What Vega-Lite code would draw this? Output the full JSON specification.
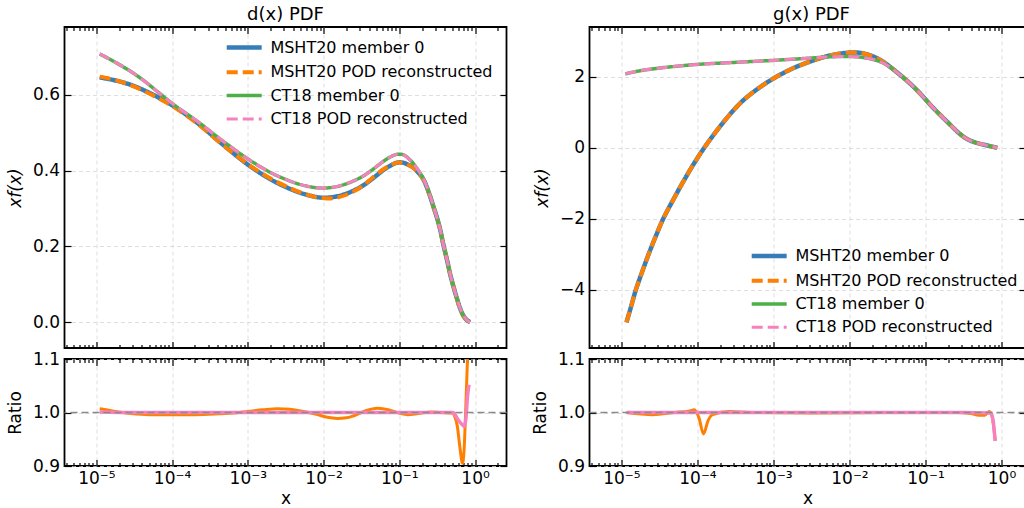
{
"$schema": "https://vega.github.io/schema/vega-lite/v6.json",
"padding": {"left": 5.5, "top": 5, "right": 0, "bottom": 0},
"datasets": {
"d": [
{"x":1.107e-5,"v":0.646,"s":"MSHT20 member 0"},{"x":1.778e-5,"v":0.638,"s":"MSHT20 member 0"},{"x":2.884e-5,"v":0.626,"s":"MSHT20 member 0"},{"x":4.467e-5,"v":0.610,"s":"MSHT20 member 0"},{"x":6.457e-5,"v":0.594,"s":"MSHT20 member 0"},{"x":1.072e-4,"v":0.569,"s":"MSHT20 member 0"},{"x":2.188e-4,"v":0.525,"s":"MSHT20 member 0"},{"x":4.416e-4,"v":0.473,"s":"MSHT20 member 0"},{"x":1e-3,"v":0.416,"s":"MSHT20 member 0"},{"x":1.995e-3,"v":0.377,"s":"MSHT20 member 0"},{"x":3.162e-3,"v":0.357,"s":"MSHT20 member 0"},{"x":5.012e-3,"v":0.341,"s":"MSHT20 member 0"},{"x":9.016e-3,"v":0.329,"s":"MSHT20 member 0"},{"x":1.413e-2,"v":0.331,"s":"MSHT20 member 0"},{"x":2.042e-2,"v":0.340,"s":"MSHT20 member 0"},{"x":3.162e-2,"v":0.358,"s":"MSHT20 member 0"},{"x":4.121e-2,"v":0.374,"s":"MSHT20 member 0"},{"x":6.310e-2,"v":0.403,"s":"MSHT20 member 0"},{"x":7.943e-2,"v":0.415,"s":"MSHT20 member 0"},{"x":9.333e-2,"v":0.421,"s":"MSHT20 member 0"},{"x":0.1122,"v":0.421,"s":"MSHT20 member 0"},{"x":0.1396,"v":0.413,"s":"MSHT20 member 0"},{"x":0.1514,"v":0.409,"s":"MSHT20 member 0"},{"x":0.1778,"v":0.395,"s":"MSHT20 member 0"},{"x":0.2089,"v":0.376,"s":"MSHT20 member 0"},{"x":0.2512,"v":0.336,"s":"MSHT20 member 0"},{"x":0.2818,"v":0.305,"s":"MSHT20 member 0"},{"x":0.3162,"v":0.274,"s":"MSHT20 member 0"},{"x":0.3467,"v":0.244,"s":"MSHT20 member 0"},{"x":0.3802,"v":0.206,"s":"MSHT20 member 0"},{"x":0.4266,"v":0.164,"s":"MSHT20 member 0"},{"x":0.4677,"v":0.128,"s":"MSHT20 member 0"},{"x":0.5188,"v":0.094,"s":"MSHT20 member 0"},{"x":0.5754,"v":0.063,"s":"MSHT20 member 0"},{"x":0.6339,"v":0.037,"s":"MSHT20 member 0"},{"x":0.7079,"v":0.016,"s":"MSHT20 member 0"},{"x":0.7762,"v":0.006,"s":"MSHT20 member 0"},{"x":0.8590,"v":0.0,"s":"MSHT20 member 0"},
{"x":1.107e-5,"v":0.648,"s":"MSHT20 POD reconstructed"},{"x":1.778e-5,"v":0.639,"s":"MSHT20 POD reconstructed"},{"x":2.884e-5,"v":0.625,"s":"MSHT20 POD reconstructed"},{"x":4.467e-5,"v":0.608,"s":"MSHT20 POD reconstructed"},{"x":6.457e-5,"v":0.592,"s":"MSHT20 POD reconstructed"},{"x":1.072e-4,"v":0.567,"s":"MSHT20 POD reconstructed"},{"x":2.188e-4,"v":0.523,"s":"MSHT20 POD reconstructed"},{"x":4.416e-4,"v":0.472,"s":"MSHT20 POD reconstructed"},{"x":1e-3,"v":0.417,"s":"MSHT20 POD reconstructed"},{"x":1.995e-3,"v":0.379,"s":"MSHT20 POD reconstructed"},{"x":3.162e-3,"v":0.359,"s":"MSHT20 POD reconstructed"},{"x":5.012e-3,"v":0.342,"s":"MSHT20 POD reconstructed"},{"x":9.016e-3,"v":0.328,"s":"MSHT20 POD reconstructed"},{"x":1.413e-2,"v":0.328,"s":"MSHT20 POD reconstructed"},{"x":2.042e-2,"v":0.337,"s":"MSHT20 POD reconstructed"},{"x":3.162e-2,"v":0.357,"s":"MSHT20 POD reconstructed"},{"x":4.121e-2,"v":0.376,"s":"MSHT20 POD reconstructed"},{"x":6.310e-2,"v":0.405,"s":"MSHT20 POD reconstructed"},{"x":7.943e-2,"v":0.416,"s":"MSHT20 POD reconstructed"},{"x":9.333e-2,"v":0.421,"s":"MSHT20 POD reconstructed"},{"x":0.1122,"v":0.420,"s":"MSHT20 POD reconstructed"},{"x":0.1396,"v":0.412,"s":"MSHT20 POD reconstructed"},{"x":0.1514,"v":0.408,"s":"MSHT20 POD reconstructed"},{"x":0.1778,"v":0.395,"s":"MSHT20 POD reconstructed"},{"x":0.2089,"v":0.376,"s":"MSHT20 POD reconstructed"},{"x":0.2512,"v":0.336,"s":"MSHT20 POD reconstructed"},{"x":0.2818,"v":0.305,"s":"MSHT20 POD reconstructed"},{"x":0.3162,"v":0.274,"s":"MSHT20 POD reconstructed"},{"x":0.3467,"v":0.244,"s":"MSHT20 POD reconstructed"},{"x":0.3802,"v":0.206,"s":"MSHT20 POD reconstructed"},{"x":0.4266,"v":0.164,"s":"MSHT20 POD reconstructed"},{"x":0.4677,"v":0.128,"s":"MSHT20 POD reconstructed"},{"x":0.5188,"v":0.094,"s":"MSHT20 POD reconstructed"},{"x":0.5754,"v":0.062,"s":"MSHT20 POD reconstructed"},{"x":0.6339,"v":0.035,"s":"MSHT20 POD reconstructed"},{"x":0.7079,"v":0.015,"s":"MSHT20 POD reconstructed"},{"x":0.7762,"v":0.006,"s":"MSHT20 POD reconstructed"},{"x":0.8590,"v":0.0,"s":"MSHT20 POD reconstructed"},
{"x":1.107e-5,"v":0.708,"s":"CT18 member 0"},{"x":1.778e-5,"v":0.686,"s":"CT18 member 0"},{"x":2.884e-5,"v":0.661,"s":"CT18 member 0"},{"x":4.467e-5,"v":0.634,"s":"CT18 member 0"},{"x":6.457e-5,"v":0.608,"s":"CT18 member 0"},{"x":1.072e-4,"v":0.573,"s":"CT18 member 0"},{"x":2.188e-4,"v":0.529,"s":"CT18 member 0"},{"x":4.416e-4,"v":0.482,"s":"CT18 member 0"},{"x":1e-3,"v":0.431,"s":"CT18 member 0"},{"x":1.995e-3,"v":0.395,"s":"CT18 member 0"},{"x":3.162e-3,"v":0.377,"s":"CT18 member 0"},{"x":5.012e-3,"v":0.363,"s":"CT18 member 0"},{"x":9.016e-3,"v":0.354,"s":"CT18 member 0"},{"x":1.413e-2,"v":0.357,"s":"CT18 member 0"},{"x":2.042e-2,"v":0.366,"s":"CT18 member 0"},{"x":3.162e-2,"v":0.383,"s":"CT18 member 0"},{"x":4.121e-2,"v":0.398,"s":"CT18 member 0"},{"x":6.310e-2,"v":0.426,"s":"CT18 member 0"},{"x":7.943e-2,"v":0.438,"s":"CT18 member 0"},{"x":9.333e-2,"v":0.443,"s":"CT18 member 0"},{"x":0.1122,"v":0.442,"s":"CT18 member 0"},{"x":0.1396,"v":0.428,"s":"CT18 member 0"},{"x":0.1514,"v":0.420,"s":"CT18 member 0"},{"x":0.1778,"v":0.401,"s":"CT18 member 0"},{"x":0.2089,"v":0.378,"s":"CT18 member 0"},{"x":0.2512,"v":0.337,"s":"CT18 member 0"},{"x":0.2818,"v":0.306,"s":"CT18 member 0"},{"x":0.3162,"v":0.274,"s":"CT18 member 0"},{"x":0.3467,"v":0.244,"s":"CT18 member 0"},{"x":0.3802,"v":0.206,"s":"CT18 member 0"},{"x":0.4266,"v":0.164,"s":"CT18 member 0"},{"x":0.4677,"v":0.128,"s":"CT18 member 0"},{"x":0.5188,"v":0.094,"s":"CT18 member 0"},{"x":0.5754,"v":0.063,"s":"CT18 member 0"},{"x":0.6339,"v":0.037,"s":"CT18 member 0"},{"x":0.7079,"v":0.016,"s":"CT18 member 0"},{"x":0.7762,"v":0.006,"s":"CT18 member 0"},{"x":0.8590,"v":0.0,"s":"CT18 member 0"},
{"x":1.107e-5,"v":0.708,"s":"CT18 POD reconstructed"},{"x":1.778e-5,"v":0.686,"s":"CT18 POD reconstructed"},{"x":2.884e-5,"v":0.661,"s":"CT18 POD reconstructed"},{"x":4.467e-5,"v":0.634,"s":"CT18 POD reconstructed"},{"x":6.457e-5,"v":0.608,"s":"CT18 POD reconstructed"},{"x":1.072e-4,"v":0.573,"s":"CT18 POD reconstructed"},{"x":2.188e-4,"v":0.529,"s":"CT18 POD reconstructed"},{"x":4.416e-4,"v":0.482,"s":"CT18 POD reconstructed"},{"x":1e-3,"v":0.431,"s":"CT18 POD reconstructed"},{"x":1.995e-3,"v":0.395,"s":"CT18 POD reconstructed"},{"x":3.162e-3,"v":0.377,"s":"CT18 POD reconstructed"},{"x":5.012e-3,"v":0.363,"s":"CT18 POD reconstructed"},{"x":9.016e-3,"v":0.354,"s":"CT18 POD reconstructed"},{"x":1.413e-2,"v":0.357,"s":"CT18 POD reconstructed"},{"x":2.042e-2,"v":0.366,"s":"CT18 POD reconstructed"},{"x":3.162e-2,"v":0.383,"s":"CT18 POD reconstructed"},{"x":4.121e-2,"v":0.398,"s":"CT18 POD reconstructed"},{"x":6.310e-2,"v":0.426,"s":"CT18 POD reconstructed"},{"x":7.943e-2,"v":0.438,"s":"CT18 POD reconstructed"},{"x":9.333e-2,"v":0.443,"s":"CT18 POD reconstructed"},{"x":0.1122,"v":0.442,"s":"CT18 POD reconstructed"},{"x":0.1396,"v":0.428,"s":"CT18 POD reconstructed"},{"x":0.1514,"v":0.420,"s":"CT18 POD reconstructed"},{"x":0.1778,"v":0.401,"s":"CT18 POD reconstructed"},{"x":0.2089,"v":0.378,"s":"CT18 POD reconstructed"},{"x":0.2512,"v":0.337,"s":"CT18 POD reconstructed"},{"x":0.2818,"v":0.306,"s":"CT18 POD reconstructed"},{"x":0.3162,"v":0.274,"s":"CT18 POD reconstructed"},{"x":0.3467,"v":0.244,"s":"CT18 POD reconstructed"},{"x":0.3802,"v":0.206,"s":"CT18 POD reconstructed"},{"x":0.4266,"v":0.164,"s":"CT18 POD reconstructed"},{"x":0.4677,"v":0.128,"s":"CT18 POD reconstructed"},{"x":0.5188,"v":0.094,"s":"CT18 POD reconstructed"},{"x":0.5754,"v":0.063,"s":"CT18 POD reconstructed"},{"x":0.6339,"v":0.037,"s":"CT18 POD reconstructed"},{"x":0.7079,"v":0.016,"s":"CT18 POD reconstructed"},{"x":0.7762,"v":0.006,"s":"CT18 POD reconstructed"},{"x":0.8590,"v":0.0,"s":"CT18 POD reconstructed"}
],
"g": [
{"x":1.164e-5,"v":-4.92,"s":"MSHT20 member 0"},{"x":1.349e-5,"v":-4.45,"s":"MSHT20 member 0"},{"x":1.549e-5,"v":-4.00,"s":"MSHT20 member 0"},{"x":1.905e-5,"v":-3.45,"s":"MSHT20 member 0"},{"x":2.344e-5,"v":-2.93,"s":"MSHT20 member 0"},{"x":2.884e-5,"v":-2.45,"s":"MSHT20 member 0"},{"x":3.548e-5,"v":-2.00,"s":"MSHT20 member 0"},{"x":4.786e-5,"v":-1.47,"s":"MSHT20 member 0"},{"x":6.607e-5,"v":-0.93,"s":"MSHT20 member 0"},{"x":8.913e-5,"v":-0.46,"s":"MSHT20 member 0"},{"x":1.230e-4,"v":0.00,"s":"MSHT20 member 0"},{"x":1.778e-4,"v":0.47,"s":"MSHT20 member 0"},{"x":2.630e-4,"v":0.92,"s":"MSHT20 member 0"},{"x":3.981e-4,"v":1.33,"s":"MSHT20 member 0"},{"x":6.310e-4,"v":1.67,"s":"MSHT20 member 0"},{"x":1e-3,"v":1.95,"s":"MSHT20 member 0"},{"x":1.778e-3,"v":2.23,"s":"MSHT20 member 0"},{"x":3.162e-3,"v":2.44,"s":"MSHT20 member 0"},{"x":5.623e-3,"v":2.60,"s":"MSHT20 member 0"},{"x":1e-2,"v":2.68,"s":"MSHT20 member 0"},{"x":1.413e-2,"v":2.67,"s":"MSHT20 member 0"},{"x":2.0e-2,"v":2.58,"s":"MSHT20 member 0"},{"x":2.692e-2,"v":2.44,"s":"MSHT20 member 0"},{"x":3.467e-2,"v":2.27,"s":"MSHT20 member 0"},{"x":4.467e-2,"v":2.08,"s":"MSHT20 member 0"},{"x":5.754e-2,"v":1.88,"s":"MSHT20 member 0"},{"x":7.413e-2,"v":1.66,"s":"MSHT20 member 0"},{"x":9.550e-2,"v":1.41,"s":"MSHT20 member 0"},{"x":0.1230,"v":1.15,"s":"MSHT20 member 0"},{"x":0.1585,"v":0.91,"s":"MSHT20 member 0"},{"x":0.2042,"v":0.68,"s":"MSHT20 member 0"},{"x":0.2630,"v":0.45,"s":"MSHT20 member 0"},{"x":0.3162,"v":0.31,"s":"MSHT20 member 0"},{"x":0.3715,"v":0.22,"s":"MSHT20 member 0"},{"x":0.4365,"v":0.16,"s":"MSHT20 member 0"},{"x":0.5248,"v":0.11,"s":"MSHT20 member 0"},{"x":0.6310,"v":0.07,"s":"MSHT20 member 0"},{"x":0.7586,"v":0.03,"s":"MSHT20 member 0"},{"x":0.8790,"v":0.0,"s":"MSHT20 member 0"},
{"x":1.164e-5,"v":-4.92,"s":"MSHT20 POD reconstructed"},{"x":1.349e-5,"v":-4.45,"s":"MSHT20 POD reconstructed"},{"x":1.549e-5,"v":-4.00,"s":"MSHT20 POD reconstructed"},{"x":1.905e-5,"v":-3.45,"s":"MSHT20 POD reconstructed"},{"x":2.344e-5,"v":-2.93,"s":"MSHT20 POD reconstructed"},{"x":2.884e-5,"v":-2.45,"s":"MSHT20 POD reconstructed"},{"x":3.548e-5,"v":-2.00,"s":"MSHT20 POD reconstructed"},{"x":4.786e-5,"v":-1.47,"s":"MSHT20 POD reconstructed"},{"x":6.607e-5,"v":-0.93,"s":"MSHT20 POD reconstructed"},{"x":8.913e-5,"v":-0.46,"s":"MSHT20 POD reconstructed"},{"x":1.230e-4,"v":0.00,"s":"MSHT20 POD reconstructed"},{"x":1.778e-4,"v":0.47,"s":"MSHT20 POD reconstructed"},{"x":2.630e-4,"v":0.92,"s":"MSHT20 POD reconstructed"},{"x":3.981e-4,"v":1.33,"s":"MSHT20 POD reconstructed"},{"x":6.310e-4,"v":1.67,"s":"MSHT20 POD reconstructed"},{"x":1e-3,"v":1.95,"s":"MSHT20 POD reconstructed"},{"x":1.778e-3,"v":2.23,"s":"MSHT20 POD reconstructed"},{"x":3.162e-3,"v":2.44,"s":"MSHT20 POD reconstructed"},{"x":5.623e-3,"v":2.60,"s":"MSHT20 POD reconstructed"},{"x":1e-2,"v":2.68,"s":"MSHT20 POD reconstructed"},{"x":1.413e-2,"v":2.67,"s":"MSHT20 POD reconstructed"},{"x":2.0e-2,"v":2.58,"s":"MSHT20 POD reconstructed"},{"x":2.692e-2,"v":2.44,"s":"MSHT20 POD reconstructed"},{"x":3.467e-2,"v":2.27,"s":"MSHT20 POD reconstructed"},{"x":4.467e-2,"v":2.08,"s":"MSHT20 POD reconstructed"},{"x":5.754e-2,"v":1.88,"s":"MSHT20 POD reconstructed"},{"x":7.413e-2,"v":1.66,"s":"MSHT20 POD reconstructed"},{"x":9.550e-2,"v":1.41,"s":"MSHT20 POD reconstructed"},{"x":0.1230,"v":1.15,"s":"MSHT20 POD reconstructed"},{"x":0.1585,"v":0.91,"s":"MSHT20 POD reconstructed"},{"x":0.2042,"v":0.68,"s":"MSHT20 POD reconstructed"},{"x":0.2630,"v":0.45,"s":"MSHT20 POD reconstructed"},{"x":0.3162,"v":0.31,"s":"MSHT20 POD reconstructed"},{"x":0.3715,"v":0.22,"s":"MSHT20 POD reconstructed"},{"x":0.4365,"v":0.16,"s":"MSHT20 POD reconstructed"},{"x":0.5248,"v":0.11,"s":"MSHT20 POD reconstructed"},{"x":0.6310,"v":0.07,"s":"MSHT20 POD reconstructed"},{"x":0.7586,"v":0.03,"s":"MSHT20 POD reconstructed"},{"x":0.8790,"v":0.0,"s":"MSHT20 POD reconstructed"},
{"x":1.122e-5,"v":2.08,"s":"CT18 member 0"},{"x":1.778e-5,"v":2.17,"s":"CT18 member 0"},{"x":2.818e-5,"v":2.23,"s":"CT18 member 0"},{"x":5.623e-5,"v":2.30,"s":"CT18 member 0"},{"x":1.047e-4,"v":2.35,"s":"CT18 member 0"},{"x":3.548e-4,"v":2.41,"s":"CT18 member 0"},{"x":1e-3,"v":2.46,"s":"CT18 member 0"},{"x":2.818e-3,"v":2.52,"s":"CT18 member 0"},{"x":5.623e-3,"v":2.56,"s":"CT18 member 0"},{"x":1e-2,"v":2.57,"s":"CT18 member 0"},{"x":1.413e-2,"v":2.55,"s":"CT18 member 0"},{"x":2.0e-2,"v":2.49,"s":"CT18 member 0"},{"x":2.692e-2,"v":2.40,"s":"CT18 member 0"},{"x":3.467e-2,"v":2.26,"s":"CT18 member 0"},{"x":4.467e-2,"v":2.08,"s":"CT18 member 0"},{"x":5.754e-2,"v":1.88,"s":"CT18 member 0"},{"x":7.413e-2,"v":1.66,"s":"CT18 member 0"},{"x":9.550e-2,"v":1.41,"s":"CT18 member 0"},{"x":0.1230,"v":1.15,"s":"CT18 member 0"},{"x":0.1585,"v":0.91,"s":"CT18 member 0"},{"x":0.2042,"v":0.68,"s":"CT18 member 0"},{"x":0.2630,"v":0.45,"s":"CT18 member 0"},{"x":0.3162,"v":0.31,"s":"CT18 member 0"},{"x":0.3715,"v":0.22,"s":"CT18 member 0"},{"x":0.4365,"v":0.16,"s":"CT18 member 0"},{"x":0.5248,"v":0.11,"s":"CT18 member 0"},{"x":0.6310,"v":0.07,"s":"CT18 member 0"},{"x":0.7586,"v":0.03,"s":"CT18 member 0"},{"x":0.8790,"v":0.0,"s":"CT18 member 0"},
{"x":1.122e-5,"v":2.08,"s":"CT18 POD reconstructed"},{"x":1.778e-5,"v":2.17,"s":"CT18 POD reconstructed"},{"x":2.818e-5,"v":2.23,"s":"CT18 POD reconstructed"},{"x":5.623e-5,"v":2.30,"s":"CT18 POD reconstructed"},{"x":1.047e-4,"v":2.35,"s":"CT18 POD reconstructed"},{"x":3.548e-4,"v":2.41,"s":"CT18 POD reconstructed"},{"x":1e-3,"v":2.46,"s":"CT18 POD reconstructed"},{"x":2.818e-3,"v":2.52,"s":"CT18 POD reconstructed"},{"x":5.623e-3,"v":2.56,"s":"CT18 POD reconstructed"},{"x":1e-2,"v":2.57,"s":"CT18 POD reconstructed"},{"x":1.413e-2,"v":2.55,"s":"CT18 POD reconstructed"},{"x":2.0e-2,"v":2.49,"s":"CT18 POD reconstructed"},{"x":2.692e-2,"v":2.40,"s":"CT18 POD reconstructed"},{"x":3.467e-2,"v":2.26,"s":"CT18 POD reconstructed"},{"x":4.467e-2,"v":2.08,"s":"CT18 POD reconstructed"},{"x":5.754e-2,"v":1.88,"s":"CT18 POD reconstructed"},{"x":7.413e-2,"v":1.66,"s":"CT18 POD reconstructed"},{"x":9.550e-2,"v":1.41,"s":"CT18 POD reconstructed"},{"x":0.1230,"v":1.15,"s":"CT18 POD reconstructed"},{"x":0.1585,"v":0.91,"s":"CT18 POD reconstructed"},{"x":0.2042,"v":0.68,"s":"CT18 POD reconstructed"},{"x":0.2630,"v":0.45,"s":"CT18 POD reconstructed"},{"x":0.3162,"v":0.31,"s":"CT18 POD reconstructed"},{"x":0.3715,"v":0.22,"s":"CT18 POD reconstructed"},{"x":0.4365,"v":0.16,"s":"CT18 POD reconstructed"},{"x":0.5248,"v":0.11,"s":"CT18 POD reconstructed"},{"x":0.6310,"v":0.07,"s":"CT18 POD reconstructed"},{"x":0.7586,"v":0.03,"s":"CT18 POD reconstructed"},{"x":0.8790,"v":0.0,"s":"CT18 POD reconstructed"}
],
"dr": [
{"x":1.107e-5,"r":1.007,"s":"MSHT20"},{"x":1.778e-5,"r":1.002,"s":"MSHT20"},{"x":2.884e-5,"r":0.998,"s":"MSHT20"},{"x":5.012e-5,"r":0.996,"s":"MSHT20"},{"x":1e-4,"r":0.996,"s":"MSHT20"},{"x":1.995e-4,"r":0.996,"s":"MSHT20"},{"x":3.631e-4,"r":0.997,"s":"MSHT20"},{"x":6.310e-4,"r":0.999,"s":"MSHT20"},{"x":1e-3,"r":1.002,"s":"MSHT20"},{"x":1.585e-3,"r":1.005,"s":"MSHT20"},{"x":2.455e-3,"r":1.007,"s":"MSHT20"},{"x":3.548e-3,"r":1.006,"s":"MSHT20"},{"x":4.571e-3,"r":1.004,"s":"MSHT20"},{"x":6.310e-3,"r":1.000,"s":"MSHT20"},{"x":8.318e-3,"r":0.996,"s":"MSHT20"},{"x":1.122e-2,"r":0.991,"s":"MSHT20"},{"x":1.514e-2,"r":0.989,"s":"MSHT20"},{"x":1.995e-2,"r":0.990,"s":"MSHT20"},{"x":2.512e-2,"r":0.994,"s":"MSHT20"},{"x":3.548e-2,"r":1.003,"s":"MSHT20"},{"x":5.129e-2,"r":1.008,"s":"MSHT20"},{"x":6.607e-2,"r":1.006,"s":"MSHT20"},{"x":8.511e-2,"r":1.002,"s":"MSHT20"},{"x":0.1047,"r":0.998,"s":"MSHT20"},{"x":0.1288,"r":0.996,"s":"MSHT20"},{"x":0.1778,"r":0.998,"s":"MSHT20"},{"x":0.2600,"r":1.001,"s":"MSHT20"},{"x":0.3548,"r":1.000,"s":"MSHT20"},{"x":0.5012,"r":0.999,"s":"MSHT20"},{"x":0.5370,"r":0.993,"s":"MSHT20"},{"x":0.5821,"r":0.975,"s":"MSHT20"},{"x":0.6310,"r":0.935,"s":"MSHT20"},{"x":0.6823,"r":0.905,"s":"MSHT20"},{"x":0.7161,"r":0.930,"s":"MSHT20"},{"x":0.7586,"r":1.020,"s":"MSHT20"},{"x":0.7943,"r":1.100,"s":"MSHT20"},{"x":0.8318,"r":1.200,"s":"MSHT20"},
{"x":1.107e-5,"r":1.001,"s":"CT18"},{"x":3.162e-5,"r":1.000,"s":"CT18"},{"x":1e-4,"r":1.000,"s":"CT18"},{"x":1e-3,"r":1.000,"s":"CT18"},{"x":1e-2,"r":1.000,"s":"CT18"},{"x":0.1,"r":1.000,"s":"CT18"},{"x":0.3162,"r":1.000,"s":"CT18"},{"x":0.5012,"r":1.000,"s":"CT18"},{"x":0.5248,"r":0.999,"s":"CT18"},{"x":0.5754,"r":0.990,"s":"CT18"},{"x":0.6310,"r":0.982,"s":"CT18"},{"x":0.6918,"r":0.976,"s":"CT18"},{"x":0.7244,"r":0.974,"s":"CT18"},{"x":0.7586,"r":0.990,"s":"CT18"},{"x":0.7943,"r":1.030,"s":"CT18"},{"x":0.8318,"r":1.052,"s":"CT18"}
],
"gr": [
{"x":1.164e-5,"r":1.000,"s":"MSHT20"},{"x":2.570e-5,"r":0.996,"s":"MSHT20"},{"x":5.012e-5,"r":1.000,"s":"MSHT20"},{"x":7.943e-5,"r":1.003,"s":"MSHT20"},{"x":9.120e-5,"r":1.005,"s":"MSHT20"},{"x":1.047e-4,"r":0.990,"s":"MSHT20"},{"x":1.202e-4,"r":0.960,"s":"MSHT20"},{"x":1.380e-4,"r":0.985,"s":"MSHT20"},{"x":1.585e-4,"r":0.996,"s":"MSHT20"},{"x":2.630e-4,"r":1.002,"s":"MSHT20"},{"x":5.012e-4,"r":1.000,"s":"MSHT20"},{"x":3.162e-3,"r":0.999,"s":"MSHT20"},{"x":3.162e-2,"r":1.000,"s":"MSHT20"},{"x":0.2512,"r":1.000,"s":"MSHT20"},{"x":0.3981,"r":0.998,"s":"MSHT20"},{"x":0.5012,"r":0.995,"s":"MSHT20"},{"x":0.6026,"r":0.995,"s":"MSHT20"},{"x":0.6918,"r":1.002,"s":"MSHT20"},{"x":0.7586,"r":0.990,"s":"MSHT20"},{"x":0.8260,"r":0.947,"s":"MSHT20"},
{"x":1.164e-5,"r":1.000,"s":"CT18"},{"x":1e-3,"r":1.000,"s":"CT18"},{"x":0.1,"r":1.000,"s":"CT18"},{"x":0.3162,"r":1.000,"s":"CT18"},{"x":0.7244,"r":0.999,"s":"CT18"},{"x":0.7762,"r":0.985,"s":"CT18"},{"x":0.8260,"r":0.947,"s":"CT18"}
]
},
"hconcat": [
{
"vconcat": [
{
"width": 442, "height": 321,
"title": {"text": "d(x) PDF", "offset": 2},
"data": {"name": "d"},
"layer": [
{"transform": [{"filter": "datum.s == 'MSHT20 member 0'"}],
 "mark": {"type": "line", "clip": true, "interpolate": "catmull-rom"},
 "encoding": {
  "x": {"field": "x", "type": "quantitative", "scale": {"type": "log", "domain": [3.8e-6, 2.6], "nice": false}, "axis": {"orient": "bottom", "values": [1e-5,1e-4,1e-3,1e-2,1e-1,1], "labels": false, "title": null, "tickSize": -6.5, "grid": true}},
  "y": {"field": "v", "type": "quantitative", "scale": {"domain": [-0.068, 0.779], "nice": false, "zero": false}, "axis": {"orient": "left", "values": [0, 0.2, 0.4, 0.6], "format": ".1f", "tickSize": -6.5, "labelPadding": 11.5, "grid": true, "title": "xf(x)", "titleFontStyle": "italic", "titlePadding": 8}},
  "color": {"field": "s", "type": "nominal", "scale": {"domain": ["MSHT20 member 0","MSHT20 POD reconstructed","CT18 member 0","CT18 POD reconstructed"], "range": ["#377eb8","#ff7f00","#4daf4a","#f781bf"]}, "legend": {"orient": "none", "legendX": 171.2, "legendY": 12, "title": null, "symbolType": "M-3,0H3", "symbolSize": 136}},
  "strokeDash": {"field": "s", "type": "nominal", "scale": {"domain": ["MSHT20 member 0","MSHT20 POD reconstructed","CT18 member 0","CT18 POD reconstructed"], "range": [[1,0],[11,5],[1,0],[11,5]]}},
  "strokeWidth": {"field": "s", "type": "nominal", "scale": {"domain": ["MSHT20 member 0","MSHT20 POD reconstructed","CT18 member 0","CT18 POD reconstructed"], "range": [4.5,3,4.5,3]}}
 }},
{"transform": [{"filter": "datum.s == 'MSHT20 POD reconstructed'"}],
 "mark": {"type": "line", "clip": true, "interpolate": "catmull-rom"},
 "encoding": {
  "x": {"field": "x", "type": "quantitative", "axis": {"orient": "top", "values": [1e-5,1e-4,1e-3,1e-2,1e-1,1], "labels": false, "title": null, "tickSize": -6.5, "grid": false}},
  "y": {"field": "v", "type": "quantitative", "axis": {"orient": "right", "values": [0, 0.2, 0.4, 0.6], "labels": false, "title": null, "tickSize": -6.5, "grid": false}},
  "color": {"field": "s", "type": "nominal"},
  "strokeDash": {"field": "s", "type": "nominal"},
  "strokeWidth": {"field": "s", "type": "nominal"}
 }},
{"transform": [{"filter": "datum.s == 'CT18 member 0'"}],
 "mark": {"type": "line", "clip": true, "interpolate": "catmull-rom"},
 "encoding": {
  "x": {"field": "x", "type": "quantitative", "axis": {"orient": "bottom", "values": [4e-6,5e-6,6e-6,7e-6,8e-6,9e-6,2e-5,3e-5,4e-5,5e-5,6e-5,7e-5,8e-5,9e-5,2e-4,3e-4,4e-4,5e-4,6e-4,7e-4,8e-4,9e-4,2e-3,3e-3,4e-3,5e-3,6e-3,7e-3,8e-3,9e-3,2e-2,3e-2,4e-2,5e-2,6e-2,7e-2,8e-2,9e-2,0.2,0.3,0.4,0.5,0.6,0.7,0.8,0.9,2], "labels": false, "title": null, "tickSize": -3.5, "grid": false}},
  "y": {"field": "v", "type": "quantitative", "axis": null},
  "color": {"field": "s", "type": "nominal"},
  "strokeDash": {"field": "s", "type": "nominal"},
  "strokeWidth": {"field": "s", "type": "nominal"}
 }},
{"transform": [{"filter": "datum.s == 'CT18 POD reconstructed'"}],
 "mark": {"type": "line", "clip": true, "interpolate": "catmull-rom"},
 "encoding": {
  "x": {"field": "x", "type": "quantitative", "axis": {"orient": "top", "values": [4e-6,5e-6,6e-6,7e-6,8e-6,9e-6,2e-5,3e-5,4e-5,5e-5,6e-5,7e-5,8e-5,9e-5,2e-4,3e-4,4e-4,5e-4,6e-4,7e-4,8e-4,9e-4,2e-3,3e-3,4e-3,5e-3,6e-3,7e-3,8e-3,9e-3,2e-2,3e-2,4e-2,5e-2,6e-2,7e-2,8e-2,9e-2,0.2,0.3,0.4,0.5,0.6,0.7,0.8,0.9,2], "labels": false, "title": null, "tickSize": -3.5, "grid": false}},
  "y": {"field": "v", "type": "quantitative", "axis": null},
  "color": {"field": "s", "type": "nominal"},
  "strokeDash": {"field": "s", "type": "nominal"},
  "strokeWidth": {"field": "s", "type": "nominal"}
 }}
],
"resolve": {"axis": {"x": "independent", "y": "independent"}}
},
{
"width": 442, "height": 107,
"data": {"name": "dr"},
"layer": [
{"transform": [{"filter": "datum.s == 'MSHT20'"}],
 "mark": {"type": "line", "clip": true, "interpolate": "monotone", "color": "#ff7f00", "strokeWidth": 3},
 "encoding": {
  "x": {"field": "x", "type": "quantitative", "scale": {"type": "log", "domain": [3.8e-6, 2.6], "nice": false}, "axis": {"orient": "bottom", "values": [1e-5,1e-4,1e-3,1e-2,1e-1,1], "tickSize": -6.5, "labelPadding": 10.5, "grid": true, "title": "x", "titlePadding": 4, "labelExpr": "datum.value < 3e-5 ? '10⁻⁵' : datum.value < 3e-4 ? '10⁻⁴' : datum.value < 3e-3 ? '10⁻³' : datum.value < 3e-2 ? '10⁻²' : datum.value < 0.3 ? '10⁻¹' : '10⁰'"}},
  "y": {"field": "r", "type": "quantitative", "scale": {"domain": [0.9, 1.1], "nice": false, "zero": false}, "axis": {"orient": "left", "values": [0.9, 1.0, 1.1], "format": ".1f", "tickSize": -6.5, "labelPadding": 11.5, "grid": true, "title": "Ratio", "titlePadding": 8}}
 }},
{"transform": [{"filter": "datum.s == 'CT18'"}],
 "mark": {"type": "line", "clip": true, "interpolate": "monotone", "color": "#f781bf", "strokeWidth": 3.5},
 "encoding": {
  "x": {"field": "x", "type": "quantitative", "axis": {"orient": "top", "values": [1e-5,1e-4,1e-3,1e-2,1e-1,1], "labels": false, "title": null, "tickSize": -6.5, "grid": false}},
  "y": {"field": "r", "type": "quantitative", "axis": {"orient": "right", "values": [0.9, 1.0, 1.1], "labels": false, "title": null, "tickSize": -6.5, "grid": false}}
 }},
{"mark": {"type": "point", "opacity": 0},
 "encoding": {
  "x": {"field": "x", "type": "quantitative", "axis": {"orient": "bottom", "values": [4e-6,5e-6,6e-6,7e-6,8e-6,9e-6,2e-5,3e-5,4e-5,5e-5,6e-5,7e-5,8e-5,9e-5,2e-4,3e-4,4e-4,5e-4,6e-4,7e-4,8e-4,9e-4,2e-3,3e-3,4e-3,5e-3,6e-3,7e-3,8e-3,9e-3,2e-2,3e-2,4e-2,5e-2,6e-2,7e-2,8e-2,9e-2,0.2,0.3,0.4,0.5,0.6,0.7,0.8,0.9,2], "labels": false, "title": null, "tickSize": -3.5, "grid": false}},
  "y": {"field": "r", "type": "quantitative", "axis": null}
 }},
{"mark": {"type": "point", "opacity": 0},
 "encoding": {
  "x": {"field": "x", "type": "quantitative", "axis": {"orient": "top", "values": [4e-6,5e-6,6e-6,7e-6,8e-6,9e-6,2e-5,3e-5,4e-5,5e-5,6e-5,7e-5,8e-5,9e-5,2e-4,3e-4,4e-4,5e-4,6e-4,7e-4,8e-4,9e-4,2e-3,3e-3,4e-3,5e-3,6e-3,7e-3,8e-3,9e-3,2e-2,3e-2,4e-2,5e-2,6e-2,7e-2,8e-2,9e-2,0.2,0.3,0.4,0.5,0.6,0.7,0.8,0.9,2], "labels": false, "title": null, "tickSize": -3.5, "grid": false}},
  "y": {"field": "r", "type": "quantitative", "axis": null}
 }},
{"data": {"values": [{"one": 1}]},
 "mark": {"type": "rule", "color": "#8a8a8a", "strokeDash": [7, 4], "strokeWidth": 1.5},
 "encoding": {"y": {"datum": 1, "type": "quantitative", "axis": null}}}
],
"resolve": {"axis": {"x": "independent", "y": "independent"}}
}
],
"spacing": 11,
"bounds": "flush",
"resolve": {"scale": {"color": "independent", "strokeDash": "independent", "strokeWidth": "independent"}}
},
{
"vconcat": [
{
"width": 436, "height": 321,
"title": {"text": "g(x) PDF", "offset": 2, "dx": 4},
"data": {"name": "g"},
"layer": [
{"transform": [{"filter": "datum.s == 'MSHT20 member 0'"}],
 "mark": {"type": "line", "clip": true, "interpolate": "catmull-rom"},
 "encoding": {
  "x": {"field": "x", "type": "quantitative", "scale": {"type": "log", "domain": [3.8e-6, 2.07], "nice": false}, "axis": {"orient": "bottom", "values": [1e-5,1e-4,1e-3,1e-2,1e-1,1], "labels": false, "title": null, "tickSize": -6.5, "grid": true}},
  "y": {"field": "v", "type": "quantitative", "scale": {"domain": [-5.64, 3.40], "nice": false, "zero": false}, "axis": {"orient": "left", "values": [-4, -2, 0, 2], "format": "d", "tickSize": -6.5, "labelPadding": 11.5, "grid": true, "title": "xf(x)", "titleFontStyle": "italic", "titlePadding": 8}},
  "color": {"field": "s", "type": "nominal", "scale": {"domain": ["MSHT20 member 0","MSHT20 POD reconstructed","CT18 member 0","CT18 POD reconstructed"], "range": ["#377eb8","#ff7f00","#4daf4a","#f781bf"]}, "legend": {"orient": "none", "legendX": 171.2, "legendY": 220.4, "title": null, "symbolType": "M-3,0H3", "symbolSize": 136}},
  "strokeDash": {"field": "s", "type": "nominal", "scale": {"domain": ["MSHT20 member 0","MSHT20 POD reconstructed","CT18 member 0","CT18 POD reconstructed"], "range": [[1,0],[11,5],[1,0],[11,5]]}},
  "strokeWidth": {"field": "s", "type": "nominal", "scale": {"domain": ["MSHT20 member 0","MSHT20 POD reconstructed","CT18 member 0","CT18 POD reconstructed"], "range": [4.5,3,4.5,3]}}
 }},
{"transform": [{"filter": "datum.s == 'MSHT20 POD reconstructed'"}],
 "mark": {"type": "line", "clip": true, "interpolate": "catmull-rom"},
 "encoding": {
  "x": {"field": "x", "type": "quantitative", "axis": {"orient": "top", "values": [1e-5,1e-4,1e-3,1e-2,1e-1,1], "labels": false, "title": null, "tickSize": -6.5, "grid": false}},
  "y": {"field": "v", "type": "quantitative", "axis": {"orient": "right", "values": [-4, -2, 0, 2], "labels": false, "title": null, "tickSize": -6.5, "grid": false}},
  "color": {"field": "s", "type": "nominal"},
  "strokeDash": {"field": "s", "type": "nominal"},
  "strokeWidth": {"field": "s", "type": "nominal"}
 }},
{"transform": [{"filter": "datum.s == 'CT18 member 0'"}],
 "mark": {"type": "line", "clip": true, "interpolate": "catmull-rom"},
 "encoding": {
  "x": {"field": "x", "type": "quantitative", "axis": {"orient": "bottom", "values": [4e-6,5e-6,6e-6,7e-6,8e-6,9e-6,2e-5,3e-5,4e-5,5e-5,6e-5,7e-5,8e-5,9e-5,2e-4,3e-4,4e-4,5e-4,6e-4,7e-4,8e-4,9e-4,2e-3,3e-3,4e-3,5e-3,6e-3,7e-3,8e-3,9e-3,2e-2,3e-2,4e-2,5e-2,6e-2,7e-2,8e-2,9e-2,0.2,0.3,0.4,0.5,0.6,0.7,0.8,0.9,2], "labels": false, "title": null, "tickSize": -3.5, "grid": false}},
  "y": {"field": "v", "type": "quantitative", "axis": null},
  "color": {"field": "s", "type": "nominal"},
  "strokeDash": {"field": "s", "type": "nominal"},
  "strokeWidth": {"field": "s", "type": "nominal"}
 }},
{"transform": [{"filter": "datum.s == 'CT18 POD reconstructed'"}],
 "mark": {"type": "line", "clip": true, "interpolate": "catmull-rom"},
 "encoding": {
  "x": {"field": "x", "type": "quantitative", "axis": {"orient": "top", "values": [4e-6,5e-6,6e-6,7e-6,8e-6,9e-6,2e-5,3e-5,4e-5,5e-5,6e-5,7e-5,8e-5,9e-5,2e-4,3e-4,4e-4,5e-4,6e-4,7e-4,8e-4,9e-4,2e-3,3e-3,4e-3,5e-3,6e-3,7e-3,8e-3,9e-3,2e-2,3e-2,4e-2,5e-2,6e-2,7e-2,8e-2,9e-2,0.2,0.3,0.4,0.5,0.6,0.7,0.8,0.9,2], "labels": false, "title": null, "tickSize": -3.5, "grid": false}},
  "y": {"field": "v", "type": "quantitative", "axis": null},
  "color": {"field": "s", "type": "nominal"},
  "strokeDash": {"field": "s", "type": "nominal"},
  "strokeWidth": {"field": "s", "type": "nominal"}
 }}
],
"resolve": {"axis": {"x": "independent", "y": "independent"}}
},
{
"width": 436, "height": 107,
"data": {"name": "gr"},
"layer": [
{"transform": [{"filter": "datum.s == 'MSHT20'"}],
 "mark": {"type": "line", "clip": true, "interpolate": "monotone", "color": "#ff7f00", "strokeWidth": 3},
 "encoding": {
  "x": {"field": "x", "type": "quantitative", "scale": {"type": "log", "domain": [3.8e-6, 2.07], "nice": false}, "axis": {"orient": "bottom", "values": [1e-5,1e-4,1e-3,1e-2,1e-1,1], "tickSize": -6.5, "labelPadding": 10.5, "grid": true, "title": "x", "titlePadding": 4, "labelExpr": "datum.value < 3e-5 ? '10⁻⁵' : datum.value < 3e-4 ? '10⁻⁴' : datum.value < 3e-3 ? '10⁻³' : datum.value < 3e-2 ? '10⁻²' : datum.value < 0.3 ? '10⁻¹' : '10⁰'"}},
  "y": {"field": "r", "type": "quantitative", "scale": {"domain": [0.9, 1.1], "nice": false, "zero": false}, "axis": {"orient": "left", "values": [0.9, 1.0, 1.1], "format": ".1f", "tickSize": -6.5, "labelPadding": 11.5, "grid": true, "title": "Ratio", "titlePadding": 8}}
 }},
{"transform": [{"filter": "datum.s == 'CT18'"}],
 "mark": {"type": "line", "clip": true, "interpolate": "monotone", "color": "#f781bf", "strokeWidth": 3.5},
 "encoding": {
  "x": {"field": "x", "type": "quantitative", "axis": {"orient": "top", "values": [1e-5,1e-4,1e-3,1e-2,1e-1,1], "labels": false, "title": null, "tickSize": -6.5, "grid": false}},
  "y": {"field": "r", "type": "quantitative", "axis": {"orient": "right", "values": [0.9, 1.0, 1.1], "labels": false, "title": null, "tickSize": -6.5, "grid": false}}
 }},
{"mark": {"type": "point", "opacity": 0},
 "encoding": {
  "x": {"field": "x", "type": "quantitative", "axis": {"orient": "bottom", "values": [4e-6,5e-6,6e-6,7e-6,8e-6,9e-6,2e-5,3e-5,4e-5,5e-5,6e-5,7e-5,8e-5,9e-5,2e-4,3e-4,4e-4,5e-4,6e-4,7e-4,8e-4,9e-4,2e-3,3e-3,4e-3,5e-3,6e-3,7e-3,8e-3,9e-3,2e-2,3e-2,4e-2,5e-2,6e-2,7e-2,8e-2,9e-2,0.2,0.3,0.4,0.5,0.6,0.7,0.8,0.9,2], "labels": false, "title": null, "tickSize": -3.5, "grid": false}},
  "y": {"field": "r", "type": "quantitative", "axis": null}
 }},
{"mark": {"type": "point", "opacity": 0},
 "encoding": {
  "x": {"field": "x", "type": "quantitative", "axis": {"orient": "top", "values": [4e-6,5e-6,6e-6,7e-6,8e-6,9e-6,2e-5,3e-5,4e-5,5e-5,6e-5,7e-5,8e-5,9e-5,2e-4,3e-4,4e-4,5e-4,6e-4,7e-4,8e-4,9e-4,2e-3,3e-3,4e-3,5e-3,6e-3,7e-3,8e-3,9e-3,2e-2,3e-2,4e-2,5e-2,6e-2,7e-2,8e-2,9e-2,0.2,0.3,0.4,0.5,0.6,0.7,0.8,0.9,2], "labels": false, "title": null, "tickSize": -3.5, "grid": false}},
  "y": {"field": "r", "type": "quantitative", "axis": null}
 }},
{"data": {"values": [{"one": 1}]},
 "mark": {"type": "rule", "color": "#8a8a8a", "strokeDash": [7, 4], "strokeWidth": 1.5},
 "encoding": {"y": {"datum": 1, "type": "quantitative", "axis": null}}}
],
"resolve": {"axis": {"x": "independent", "y": "independent"}}
}
],
"spacing": 11,
"bounds": "flush",
"resolve": {"scale": {"color": "independent", "strokeDash": "independent", "strokeWidth": "independent"}}
}
],
"spacing": 22,
"resolve": {"scale": {"color": "independent", "strokeDash": "independent", "strokeWidth": "independent"}},
"config": {
 "font": "DejaVu Sans",
 "background": "white",
 "view": {"stroke": "black", "strokeWidth": 1.8},
 "axis": {"domain": false, "tickColor": "black", "tickWidth": 1.2, "labelColor": "black", "titleColor": "black", "labelFontSize": 17, "titleFontSize": 17, "titleFontWeight": "normal", "labelFont": "DejaVu Sans", "titleFont": "DejaVu Sans", "gridColor": "#d6d6d6", "gridDash": [4, 3], "gridWidth": 0.8, "labelFlush": false, "labelOverlap": false},
 "title": {"fontSize": 18, "fontWeight": "normal", "color": "black", "font": "DejaVu Sans"},
 "legend": {"labelFontSize": 16, "labelFont": "DejaVu Sans", "labelColor": "black", "rowPadding": 7.3, "labelOffset": 17.7, "padding": 0, "labelLimit": 400}
}
}
